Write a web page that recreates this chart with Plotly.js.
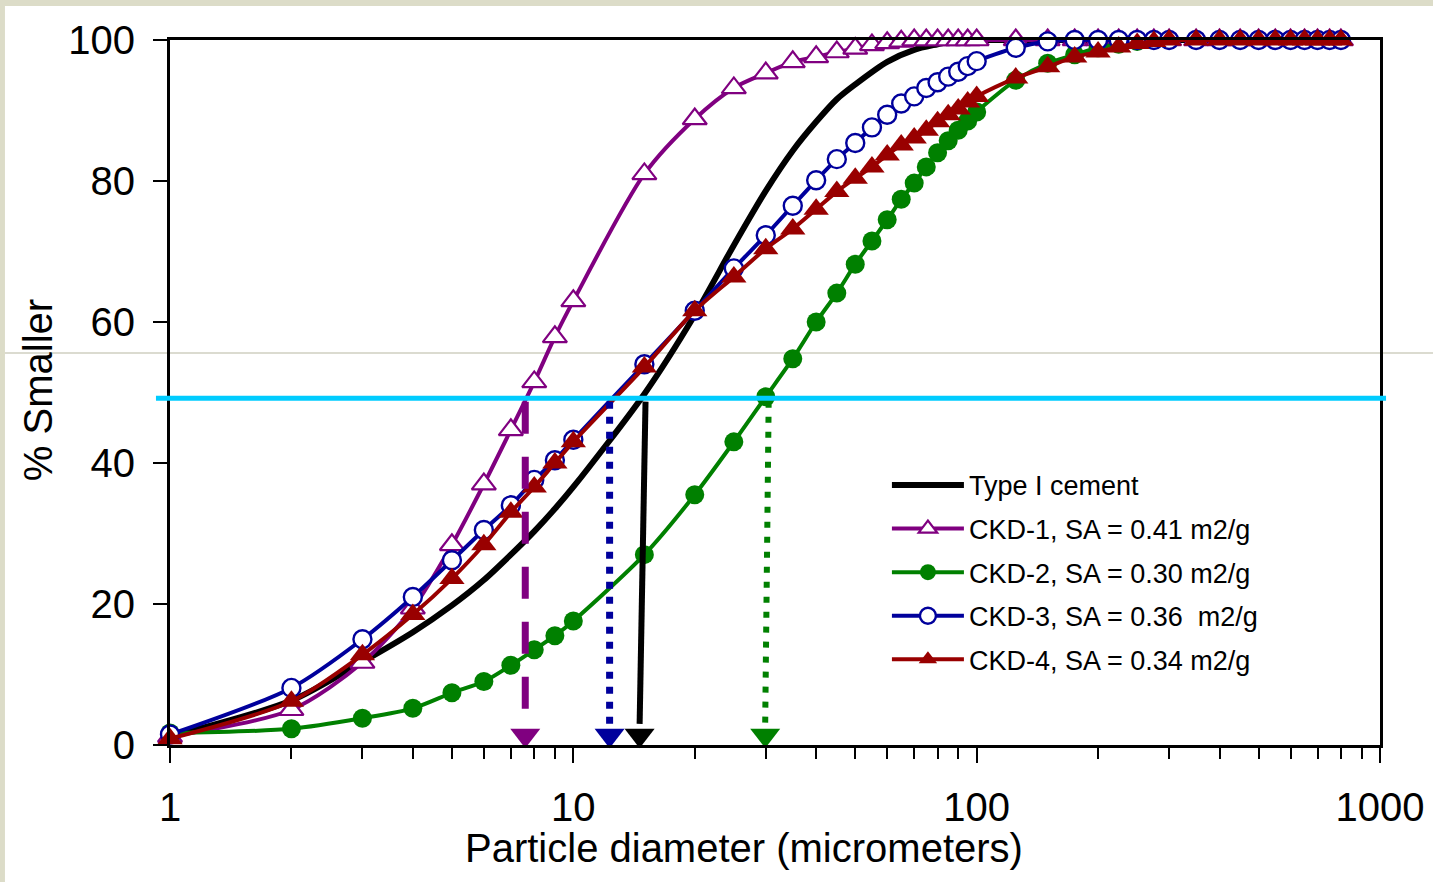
<!DOCTYPE html>
<html>
<head>
<meta charset="utf-8">
<script src="https://cdn.plot.ly/plotly-3.0.1.min.js"></script>
<style>html,body{margin:0;padding:0;background:#fff;}#chart{width:1433px;height:882px;}</style>
</head>
<body>
<div id="chart"></div>
<script>
// Particle diameters (micrometers) for the CKD series
const diam = [1,2,3,4,5,6,7,8,9,10,15,20,25,30,35,40,45,50,55,60,65,70,75,80,85,90,95,100,125,150,175,200,225,250,275,300,350,400,450,500,550,600,650,700,750,800];

// Type I cement (line only)
const cementX = [1,2,3,4,5,6,7,8,9,10,15,20,25,30,35,40,45,50,60,70,80,90,100,800];
const cementY = [1.2,6.3,11.8,16.0,19.8,23.4,27.0,30.3,33.5,36.6,49.8,61.0,70.9,78.6,84.3,88.4,91.6,93.7,96.9,98.6,99.4,100,100,100];

const ckd1 = [1.2,5,11.7,19.4,28.4,37,44.7,51.5,57.9,63,81,88.8,93.2,95.3,96.9,97.6,98.3,98.8,99.3,99.6,99.8,100,100,100,100,100,100,100,100,100,100,100,100,100,100,100,100,100,100,100,100,100,100,100,100,100];
const ckd2 = [1.7,2.3,3.8,5.2,7.4,9,11.3,13.5,15.5,17.6,27,35.5,43,49.4,54.8,60,64.1,68.2,71.5,74.5,77.4,79.7,82,84,85.7,87.2,88.5,89.8,94.3,96.7,97.9,98.9,99.4,99.8,100,100,100,100,100,100,100,100,100,100,100,100];
const ckd3 = [1.5,8.1,15,21,26.2,30.5,34,37.6,40.4,43.3,54,61.6,67.6,72.3,76.5,80.1,83.1,85.4,87.6,89.4,91,92,93.2,94,94.8,95.5,96.3,97,98.9,99.8,100,100,100,100,100,100,100,100,100,100,100,100,100,100,100,100];
const ckd4 = [0.9,6.2,12.8,18.5,23.6,28.4,33,36.6,40,43,53.6,61.6,66.4,70.4,73.2,76,78.5,80.4,82,83.7,85.1,86.1,87.2,88.4,89.4,90.2,91.2,92,94.6,96.2,97.6,98.3,99,99.5,99.8,100,100,100,100,100,100,100,100,100,100,100];

const seriesNames = ["Type I cement","CKD-1, SA = 0.41 m2/g","CKD-2, SA = 0.30 m2/g","CKD-3, SA = 0.36  m2/g","CKD-4, SA = 0.34 m2/g"];

// D50 read-off: 50% line and arrows down to the x axis
const d50Level = 49.2;
const arrowTopX = [7.6, 12.3, 15.1, 30.5];
const arrowBotX = [7.6, 12.3, 14.6, 29.9];
const arrowTopY = 48.7;
const arrowLineEndY = 3.0;
const arrowHeadY = 1.4;

// Axis ticks
const xTickVals = [1,10,100,1000];
const xTickText = ["1","10","100","1000"];
const xMinorVals = [2,3,4,5,6,7,8,9,20,30,40,50,60,70,80,90,200,300,400,500,600,700,800,900];
const yTickVals = [0,20,40,60,80,100];

const xTitle = "Particle diameter (micrometers)";
const yTitle = "% Smaller";

const purple = "#800080", green = "#008000", blue = "#00009c", red = "#990000", black = "#000000", cyan = "#00ccff";
const arrowColors = [purple, blue, black, green];
const arrowDash = ["32px,23px","7px,8px","solid","6px,9px"];
const arrowWidth = [7,7,6,6];

const FONT = "Liberation Sans, Arial, Helvetica, sans-serif";
const SMOOTH = 0.8;

const traces = [
  {x: cementX, y: cementY, name: seriesNames[0], legendgroup: "g0", mode: "lines", line: {color: black, width: 6, shape: "spline", smoothing: SMOOTH}, cliponaxis: false},
  {x: diam, y: ckd1, name: seriesNames[1], legendgroup: "g1", mode: "lines+markers", line: {color: purple, width: 4, shape: "spline", smoothing: SMOOTH},
   marker: {symbol: "triangle-up", size: 21, color: "#ffffff", line: {color: purple, width: 2.2}}, cliponaxis: false},
  {x: diam, y: ckd2, name: seriesNames[2], legendgroup: "g2", mode: "lines+markers", line: {color: green, width: 4, shape: "spline", smoothing: SMOOTH},
   marker: {symbol: "circle", size: 19, color: green}, cliponaxis: false},
  {x: diam, y: ckd3, name: seriesNames[3], legendgroup: "g3", mode: "lines+markers", line: {color: blue, width: 4, shape: "spline", smoothing: SMOOTH},
   marker: {symbol: "circle", size: 18, color: "#ffffff", line: {color: blue, width: 2.4}}, cliponaxis: false},
  {x: diam, y: ckd4, name: seriesNames[4], legendgroup: "g4", mode: "lines+markers", line: {color: red, width: 4, shape: "spline", smoothing: SMOOTH},
   marker: {symbol: "triangle-up", size: 22, color: red}, cliponaxis: false}
];

for (let i = 0; i < arrowTopX.length; i++) {
  traces.push({x: [arrowTopX[i], arrowBotX[i]], y: [arrowTopY, arrowLineEndY], mode: "lines", showlegend: false,
    hoverinfo: "skip", line: {color: arrowColors[i], width: arrowWidth[i], dash: arrowDash[i]}, cliponaxis: false});
  traces.push({x: [arrowBotX[i]], y: [arrowHeadY], mode: "markers", showlegend: false, hoverinfo: "skip",
    marker: {symbol: "triangle-down", size: 26, color: arrowColors[i]}, cliponaxis: false});
}

const layout = {
  width: 1433, height: 882,
  margin: {l: 170, r: 53, t: 40, b: 137, pad: 0},
  paper_bgcolor: "#ffffff",
  plot_bgcolor: "rgba(0,0,0,0)",
  font: {family: FONT, color: "#000000", size: 40},
  showlegend: true,
  legend: {x: 0.5925, y: 0.403, xanchor: "left", yanchor: "top", bgcolor: "rgba(0,0,0,0)",
    traceorder: "grouped", tracegroupgap: 5.5,
    font: {family: FONT, size: 27, color: "#000"}, itemwidth: 72},
  xaxis: {type: "log", range: [0, 3], showgrid: false, zeroline: false,
    showline: true, linecolor: "#000", linewidth: 3, mirror: true,
    ticks: "outside", ticklen: 15, tickwidth: 2, tickcolor: "#000",
    tickvals: xTickVals, ticktext: xTickText, ticklabelstandoff: 10,
    tickfont: {family: FONT, size: 40, color: "#000"},
    minor: {ticks: "outside", ticklen: 11, tickwidth: 2, tickcolor: "#000", tickvals: xMinorVals, showgrid: false},
    automargin: false},
  yaxis: {range: [0, 100], showgrid: false, zeroline: false,
    showline: true, linecolor: "#000", linewidth: 3, mirror: true,
    ticks: "outside", ticklen: 14, tickwidth: 2, tickcolor: "#000",
    tickvals: yTickVals, ticklabelstandoff: 10,
    tickfont: {family: FONT, size: 40, color: "#000"},
    automargin: false},
  annotations: [
    {text: xTitle, xref: "paper", yref: "paper", x: 0.474, y: -0.146, xanchor: "center", yanchor: "middle",
     showarrow: false, font: {family: FONT, size: 40, color: "#000"}},
    {text: yTitle, xref: "paper", yref: "paper", x: -0.109, y: 0.5035, xanchor: "center", yanchor: "middle",
     textangle: -90, showarrow: false, font: {family: FONT, size: 40, color: "#000"}}
  ],
  shapes: [
    // slide frame strips
    {type: "rect", xref: "paper", yref: "paper", x0: -0.15, x1: 1.05, y0: 1.0482, y1: 1.07, fillcolor: "#dcdcc8", line: {width: 0}, layer: "below"},
    {type: "rect", xref: "paper", yref: "paper", x0: -0.15, x1: -0.1364, y0: -0.21, y1: 1.07, fillcolor: "#dcdcc8", line: {width: 0}, layer: "below"},
    // faint slide rule line
    {type: "line", xref: "paper", yref: "paper", x0: -0.1364, x1: 1.05, y0: 0.556, y1: 0.556, line: {color: "#cfcfc0", width: 1.5}, layer: "below"},
    // 50% line
    {type: "line", xref: "paper", yref: "y", x0: -0.0116, x1: 1.005, y0: d50Level, y1: d50Level, line: {color: cyan, width: 5}, layer: "above"}
  ]
};

Plotly.newPlot("chart", traces, layout, {displayModeBar: false, staticPlot: true});
</script>
</body>
</html>
